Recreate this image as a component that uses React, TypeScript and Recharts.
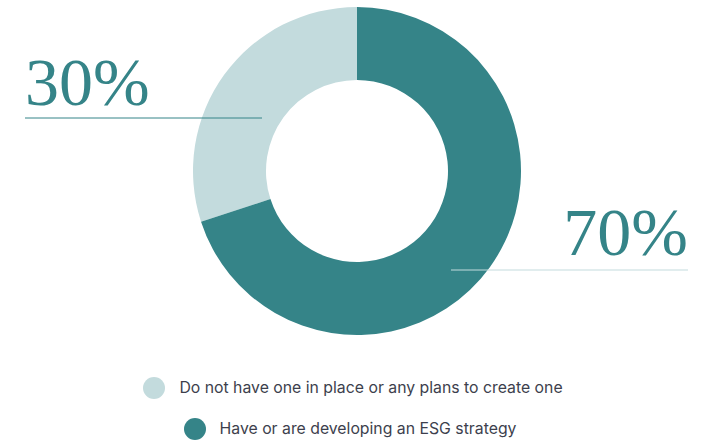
import { PieChart, Pie, Cell, Legend } from 'recharts';

const labels = ['Do not have one in place or any plans to create one', 'Have or are developing an ESG strategy'];
const values = [30, 70];
const colors = ['#C3DBDD', '#358488'];

const data = labels.map((name, i) => ({ name, value: values[i] }));

const SERIF = '"Liberation Serif", "Times New Roman", serif';

// big percentage label with an underline, one on each side of the donut
function renderLabel(props: any) {
  const { cx, cy, index, value } = props;
  if (index === 0) {
    return (
      <g key="lbl-0">
        <text x={cx - 332} y={cy - 66} fill="#358488" fontSize={68} fontFamily={SERIF} textAnchor="start">
          {value}%
        </text>
        <line x1={cx - 332} x2={cx - 95} y1={cy - 53} y2={cy - 53} stroke="#358488" strokeWidth={1} />
      </g>
    );
  }
  return (
    <g key="lbl-1">
      <text x={cx + 331} y={cy + 84} fill="#358488" fontSize={68} fontFamily={SERIF} textAnchor="end">
        {value}%
      </text>
      <line x1={cx + 94} x2={cx + 331} y1={cy + 99} y2={cy + 99} stroke="#C3DBDD" strokeWidth={1} />
    </g>
  );
}

function renderLegend() {
  return (
    <div style={{ fontFamily: 'Inter, "Noto Sans", sans-serif', fontSize: 15.8, color: '#3d3f4d' }}>
      {labels.map((name, i) => (
        <div
          key={name}
          style={{ display: 'flex', alignItems: 'center', justifyContent: 'center', height: 41, paddingRight: i === 0 ? 3 : 9 }}
        >
          <span
            style={{ width: 22, height: 22, borderRadius: '50%', background: colors[i], display: 'inline-block', marginRight: 14, flexShrink: 0 }}
          />
          <span>{name}</span>
        </div>
      ))}
    </div>
  );
}

export default function App() {
  return (
    <div style={{ position: 'absolute', left: 0, top: 0, width: 709, height: 441, background: '#fff' }}>
      <PieChart width={709} height={441} margin={{ top: 0, right: 0, bottom: 0, left: 0 }}>
        <Pie
          data={data}
          dataKey="value"
          cx={357}
          cy={171}
          innerRadius={91}
          outerRadius={164}
          startAngle={198}
          endAngle={-162}
          stroke="none"
          label={renderLabel}
          labelLine={false}
          isAnimationActive={false}
        >
          {data.map((d, i) => (
            <Cell key={d.name} fill={colors[i]} />
          ))}
        </Pie>
        <Legend content={renderLegend} wrapperStyle={{ top: 367, left: 0, width: 709 }} />
      </PieChart>
    </div>
  );
}
